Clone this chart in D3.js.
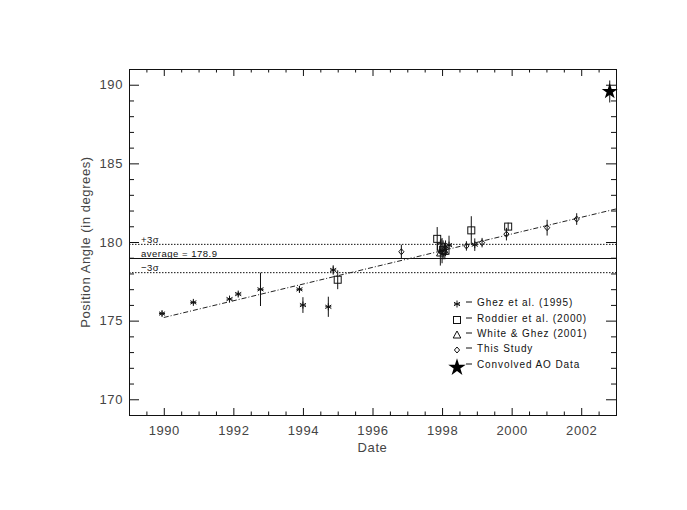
<!DOCTYPE html>
<html>
<head>
<meta charset="utf-8">
<script src="https://cdn.jsdelivr.net/npm/d3@7"></script>
<style>
  html, body { margin: 0; padding: 0; background: #fff; }
  svg { display: block; font-family: "Liberation Sans", Arial, sans-serif; }
</style>
</head>
<body>
<div id="chart"></div>
<script>
// Position angle vs date — all series as [date, angle, error]

const ghez = [
  [1989.95, 175.45, 0.15], [1990.85, 176.16, 0.12], [1991.89, 176.37, 0.12],
  [1992.14, 176.69, 0.15], [1992.78, 176.99, 1.06], [1993.90, 176.99, 0.2],
  [1994.00, 175.99, 0.5],  [1994.73, 175.88, 0.64], [1994.87, 178.22, 0.3],
  [1998.00, 179.45, 0.8],  [1998.20, 179.8, 0.6],   [1998.94, 179.83, 0.4]
];
const roddier = [
  [1995.00, 177.6, 0.6], [1997.86, 180.2, 0.75], [1997.97, 179.7, 0.5],
  [1998.03, 179.5, 0.6], [1998.84, 180.74, 0.9], [1999.90, 180.98, 0.25]
];
const whiteGhez = [[1997.95, 179.3, 0.8], [1998.08, 179.4, 0.5]];
const thisStudy = [
  [1996.83, 179.38, 0.45], [1998.10, 179.6, 0.5], [1998.70, 179.75, 0.3],
  [1999.15, 179.96, 0.3],  [1999.85, 180.5, 0.4], [2001.02, 180.91, 0.5],
  [2001.87, 181.46, 0.37]
];
const aoData = [[2002.82, 189.57, 0.7]];

const fitLine = [[1990.0, 175.2], [2003.0, 182.1]];
const average = 178.95, plus3sigma = 179.85, minus3sigma = 178.05;

const xDomain = [1989, 2003], yDomain = [169, 191];
const xMajorTicks = [1990, 1992, 1994, 1996, 1998, 2000, 2002];
const yMajorTicks = [170, 175, 180, 185, 190];

const legendLabels = ['Ghez et al. (1995)', 'Roddier et al. (2000)', 'White & Ghez (2001)', 'This Study', 'Convolved AO Data'];
const legendSymbols = ['asterisk', 'square', 'triangle', 'diamond', 'star'];

// ── Layout ────────────────────────────────────────────────────
const W = 687, H = 510;
const m = { top: 69, right: 71, bottom: 95, left: 129 };
const iW = W - m.left - m.right, iH = H - m.top - m.bottom;
const INK = '#111';
const LABEL = '#444';

const svg = d3.select('#chart').append('svg').attr('width', W).attr('height', H);
const g = svg.append('g').attr('transform', `translate(${m.left},${m.top})`);

const x = d3.scaleLinear().domain(xDomain).range([0, iW]);
const y = d3.scaleLinear().domain(yDomain).range([iH, 0]);

// ── Axes (ticks point inward on all four sides) ───────────────
const xMinor = d3.range(xDomain[0], xDomain[1] + 0.001, 0.5).filter(v => !xMajorTicks.includes(v));
const yMinor = d3.range(yDomain[0], yDomain[1] + 0.001, 1).filter(v => !yMajorTicks.includes(v));

function styleAxis(sel) {
  sel.select('.domain').attr('stroke', INK);
  sel.selectAll('line').attr('stroke', INK);
  sel.selectAll('text').attr('font-size', 13).attr('fill', LABEL)
    .attr('font-family', '"Liberation Sans", Arial, sans-serif').attr('letter-spacing', 0.6);
}

g.append('g').attr('transform', `translate(0,${iH})`)
  .call(d3.axisBottom(x).tickValues(xMajorTicks).tickSize(-7).tickPadding(11).tickFormat(d3.format('d')))
  .call(styleAxis);
g.append('g').attr('transform', `translate(0,${iH})`)
  .call(d3.axisBottom(x).tickValues(xMinor).tickSize(-3.5).tickFormat(''))
  .call(styleAxis);
g.append('g')
  .call(d3.axisTop(x).tickValues(xMajorTicks).tickSize(-7).tickFormat(''))
  .call(styleAxis);
g.append('g')
  .call(d3.axisTop(x).tickValues(xMinor).tickSize(-3.5).tickFormat(''))
  .call(styleAxis);

g.append('g')
  .call(d3.axisLeft(y).tickValues(yMajorTicks).tickSize(-10).tickPadding(6).tickFormat(d3.format('d')))
  .call(styleAxis);
g.append('g')
  .call(d3.axisLeft(y).tickValues(yMinor).tickSize(-5).tickFormat(''))
  .call(styleAxis);
g.append('g').attr('transform', `translate(${iW},0)`)
  .call(d3.axisRight(y).tickValues(yMajorTicks).tickSize(-10).tickFormat(''))
  .call(styleAxis);
g.append('g').attr('transform', `translate(${iW},0)`)
  .call(d3.axisRight(y).tickValues(yMinor).tickSize(-5).tickFormat(''))
  .call(styleAxis);

// Axis titles
svg.append('text').attr('x', m.left + x(1996)).attr('y', 452)
  .attr('text-anchor', 'middle').attr('font-size', 13).attr('letter-spacing', 0.6)
  .attr('fill', LABEL).text('Date');
svg.append('text').attr('transform', `translate(90,${m.top + iH / 2}) rotate(-90)`)
  .attr('text-anchor', 'middle').attr('font-size', 13).attr('letter-spacing', 0.6)
  .attr('fill', LABEL).text('Position Angle (in degrees)');

// ── Reference lines ───────────────────────────────────────────
const hline = (v, dash) => g.append('line')
  .attr('x1', 0).attr('x2', iW).attr('y1', y(v)).attr('y2', y(v))
  .attr('stroke', INK).attr('stroke-width', 1).attr('stroke-dasharray', dash);
hline(plus3sigma, '1.5,1.5');
hline(average, null);
hline(minus3sigma, '1.5,1.5');

const note = (v, txt) => g.append('text').attr('x', 12).attr('y', y(v) - 1.5)
  .attr('font-size', 9.5).attr('letter-spacing', 0.5).attr('fill', INK).text(txt);
note(plus3sigma, '+3σ');
note(average, 'average = 178.9');
note(minus3sigma, '−3σ');

// Linear fit
g.append('path').datum(fitLine)
  .attr('d', d3.line().x(d => x(d[0])).y(d => y(d[1])))
  .attr('fill', 'none').attr('stroke', '#222').attr('stroke-width', 1)
  .attr('stroke-dasharray', '5,2,1,2');

// ── Markers ───────────────────────────────────────────────────
function drawSymbol(sel, type, cx, cy, big) {
  if (type === 'asterisk') {
    const r = 3.5;
    [0, 60, 120].forEach(a => {
      const dx = r * Math.sin(a * Math.PI / 180), dy = r * Math.cos(a * Math.PI / 180);
      sel.append('line').attr('x1', cx - dx).attr('y1', cy - dy).attr('x2', cx + dx).attr('y2', cy + dy)
        .attr('stroke', INK).attr('stroke-width', 1);
    });
    sel.append('line').attr('x1', cx - 3).attr('x2', cx + 3).attr('y1', cy).attr('y2', cy)
      .attr('stroke', INK).attr('stroke-width', 1);
  } else if (type === 'square') {
    sel.append('rect').attr('x', cx - 3.5).attr('y', cy - 3.5).attr('width', 7).attr('height', 7)
      .attr('fill', 'none').attr('stroke', INK).attr('stroke-width', 1);
  } else if (type === 'triangle') {
    sel.append('path').attr('d', `M${cx},${cy - 4}L${cx + 3.8},${cy + 3}L${cx - 3.8},${cy + 3}Z`)
      .attr('fill', 'none').attr('stroke', INK).attr('stroke-width', 1);
  } else if (type === 'diamond') {
    sel.append('path').attr('d', `M${cx},${cy - 3}L${cx + 2.6},${cy}L${cx},${cy + 3}L${cx - 2.6},${cy}Z`)
      .attr('fill', 'none').attr('stroke', INK).attr('stroke-width', 1);
  } else if (type === 'star') {
    sel.append('path').attr('transform', `translate(${cx},${cy})`)
      .attr('d', d3.symbol().type(d3.symbolStar).size(big ? 95 : 80)())
      .attr('fill', '#000');
  }
}

const series = [
  { data: ghez, sym: 'asterisk' },
  { data: roddier, sym: 'square' },
  { data: whiteGhez, sym: 'triangle' },
  { data: thisStudy, sym: 'diamond' },
  { data: aoData, sym: 'star' }
];

const marks = g.append('g');
series.forEach(s => {
  s.data.forEach(d => {
    marks.append('line')
      .attr('x1', x(d[0])).attr('x2', x(d[0]))
      .attr('y1', y(d[1] - d[2])).attr('y2', y(d[1] + d[2]))
      .attr('stroke', INK).attr('stroke-width', 1);
    drawSymbol(marks, s.sym, x(d[0]), y(d[1]));
  });
});

// ── Legend ────────────────────────────────────────────────────
const legendY = [304, 320, 335, 350, 366];
const legend = svg.append('g');
legendLabels.forEach((lbl, i) => {
  drawSymbol(legend, legendSymbols[i], 457, legendY[i] + (i === 4 ? 1.5 : 0), true);
  legend.append('line').attr('x1', 466).attr('x2', 472)
    .attr('y1', legendY[i] - 2).attr('y2', legendY[i] - 2)
    .attr('stroke', INK).attr('stroke-width', 1);
  legend.append('text').attr('x', 477).attr('y', legendY[i] + 1.5)
    .attr('font-size', 10).attr('letter-spacing', 0.9).attr('fill', INK).text(lbl);
});
</script>
</body>
</html>
